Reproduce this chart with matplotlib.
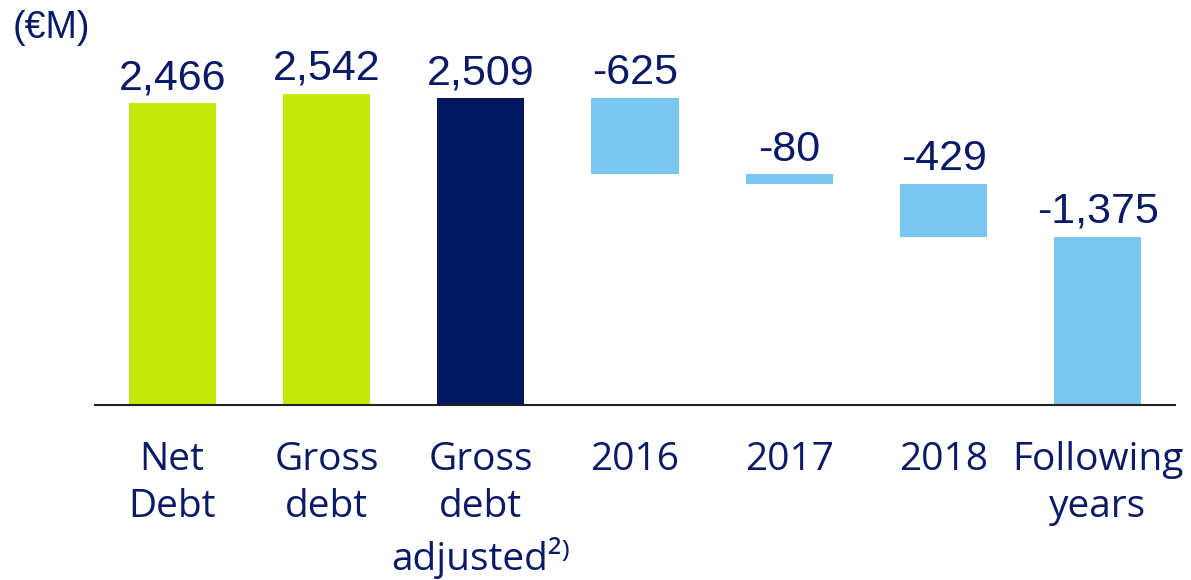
import matplotlib.pyplot as plt

categories = ["Net\nDebt", "Gross\ndebt", "Gross\ndebt\nadjusted²⁾", "2016", "2017", "2018", "Following\nyears"]
values = [2466, 2542, 2509, -625, -80, -429, -1375]
value_labels = ["2,466", "2,542", "2,509", "-625", "-80", "-429", "-1,375"]

LIME = "#C5E80B"
NAVY = "#00175F"
SKY = "#79C7F1"
TEXT = "#0B1A66"
colors = [LIME, LIME, NAVY, SKY, SKY, SKY, SKY]

# waterfall: the first three bars stand on zero, the rest run down from 2,509
bottoms = []
heights = []
level = values[2]
for i, v in enumerate(values):
    if i < 3:
        bottoms.append(0)
        heights.append(v)
    else:
        level = level + v
        bottoms.append(level)
        heights.append(-v)

fig = plt.figure(figsize=(11.91, 5.80), dpi=100)
ax = fig.add_axes([95 / 1191, 175 / 580, 1080 / 1191, 405 / 580])

x = list(range(len(categories)))
ax.bar(x, heights, bottom=bottoms, width=0.565, color=colors, zorder=2)

for i in x:
    ax.annotate(value_labels[i], (i, bottoms[i] + heights[i]), xytext=(0, 10),
                textcoords="offset points", ha="center", va="baseline",
                fontsize=31, color=TEXT, family="Liberation Sans")
    ax.annotate(categories[i], (i, 0), xytext=(0, -26), textcoords="offset points",
                ha="center", va="top", fontsize=28, color=TEXT, linespacing=1.32,
                family=["Open Sans", "DejaVu Sans"])

ax.set_xlim(-0.5, 6.5)
ax.set_ylim(0, 3309)
for s in ["top", "right", "left"]:
    ax.spines[s].set_visible(False)
ax.spines["bottom"].set_color("#222222")
ax.spines["bottom"].set_linewidth(1.5)
ax.set_xticks([])
ax.set_yticks([])

fig.text(13 / 1191, 1 - 38 / 580, "(€M)", fontsize=27, color=TEXT,
         family="Liberation Sans", va="baseline")

fig.savefig("out.png")
